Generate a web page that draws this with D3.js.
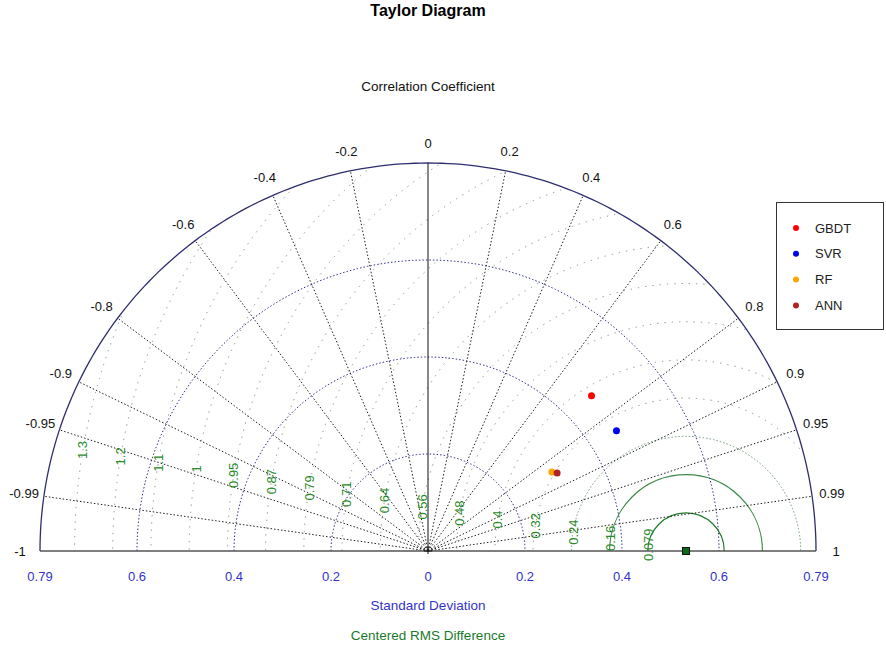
<!DOCTYPE html>
<html>
<head>
<meta charset="utf-8">
<script src="https://cdn.jsdelivr.net/npm/d3@7"></script>
<style>
  body { margin: 0; background: #fff; }
  text { font-family: "Liberation Sans", Arial, sans-serif; }
</style>
</head>
<body>
<svg width="886" height="646"></svg>
<script>
// Data
const models = ["GBDT", "SVR", "RF", "ANN"];
const modelColors = ["#ff0000", "#0000ee", "#ffa500", "#b22222"];
const stdDevs = [0.465, 0.461, 0.303, 0.311];
const correlations = [0.725, 0.843, 0.843, 0.856];

const refStd = 0.532;                       // observed standard deviation
const sdMax = 0.8;
const sdTicks = [0.2, 0.4, 0.6];
const sdEdgeLabel = "0.79";
const corrLines = [0.2, 0.4, 0.6, 0.8, 0.9, 0.95, 0.99];
const corrLabels = [-1, -0.99, -0.95, -0.9, -0.8, -0.6, -0.4, -0.2, 0, 0.2, 0.4, 0.6, 0.8, 0.9, 0.95, 0.99, 1];
const rmsStep = 0.0788;
const rmsLabels = ["0.079", "0.16", "0.24", "0.32", "0.4", "0.48", "0.56", "0.64", "0.71", "0.79",
                   "0.87", "0.95", "1", "1.1", "1.2", "1.3"];

const svg = d3.select("svg");
const cx = 428, cy = 551;                   // origin of the diagram
const R = 388;

const r = d3.scaleLinear().domain([0, sdMax]).range([0, R]);
// correlation -> angle (radians from +x axis)
const ang = c => Math.acos(c);

const g = svg.append("g").attr("transform", `translate(${cx},${cy})`);

// clip to the upper semicircle
svg.append("defs").append("clipPath").attr("id", "semi")
  .append("path")
  .attr("d", () => {
    const p = d3.path();
    p.moveTo(R, 0);
    p.arc(0, 0, R, 0, -Math.PI, true);
    p.closePath();
    return p.toString();
  });

// centered RMS circles
const rmsG = g.append("g").attr("clip-path", "url(#semi)");
rmsLabels.forEach((lab, i) => {
  const rr = r((i + 1) * rmsStep);
  rmsG.append("circle")
    .attr("cx", r(refStd)).attr("cy", 0).attr("r", rr)
    .attr("fill", "none")
    .attr("stroke", i === 0 ? "#1f7a2a" : i === 1 ? "#3f8a4a" : i === 2 ? "#6f9a78" : "#7f9487")
    .attr("stroke-width", i < 2 ? 1.2 : 1)
    .attr("stroke-dasharray", i < 2 ? null : (i === 2 ? "1.5,2" : "1.3,6"));
});

// standard deviation arcs
const arcLine = d3.lineRadial().curve(d3.curveLinear);
const half = d3.range(-Math.PI / 2, Math.PI / 2 + 0.001, Math.PI / 180);
sdTicks.forEach(v => {
  g.append("path")
    .attr("d", arcLine(half.map(a => [a, r(v)])))
    .attr("fill", "none").attr("stroke", "#33338f")
    .attr("stroke-width", 1).attr("stroke-dasharray", "1.5,2");
});

// correlation rays
corrLines.concat(corrLines.map(c => -c)).forEach(c => {
  const t = ang(c);
  g.append("line")
    .attr("x1", 0).attr("y1", 0)
    .attr("x2", R * Math.cos(t)).attr("y2", -R * Math.sin(t))
    .attr("stroke", "#222").attr("stroke-width", 1)
    .attr("stroke-dasharray", "1.5,2");
});
// zero correlation
g.append("line").attr("x1", 0).attr("y1", 0).attr("x2", 0).attr("y2", -R)
  .attr("stroke", "#111").attr("stroke-width", 1);

// outer arc + baseline
g.append("path")
  .attr("d", arcLine(half.map(a => [a, R])))
  .attr("fill", "none").attr("stroke", "#2e2e6e").attr("stroke-width", 1.3);
g.append("line").attr("x1", -R).attr("x2", R).attr("y1", 0).attr("y2", 0)
  .attr("stroke", "#555").attr("stroke-width", 1.5);
g.append("path").attr("d", "M-4,0H4M0,-4V3").attr("stroke", "#111");

// RMS labels
rmsLabels.forEach((lab, i) => {
  const rr = r((i + 1) * rmsStep);
  const a = 170.5 * Math.PI / 180;
  const x = r(refStd) + rr * Math.cos(a), y = -rr * Math.sin(a);
  g.append("text")
    .attr("transform", `translate(${x},${y}) rotate(-90)`)
    .attr("text-anchor", "middle").attr("dy", "0.35em")
    .attr("font-size", 13).attr("fill", "#2a8a2a")
    .text(lab);
});

// correlation labels
corrLabels.forEach(c => {
  const t = ang(c), rl = R + 20;
  g.append("text")
    .attr("x", rl * Math.cos(t)).attr("y", -rl * Math.sin(t))
    .attr("text-anchor", "middle").attr("dy", "0.35em")
    .attr("font-size", 13).attr("fill", "#111")
    .text(c);
});

// SD axis labels
const sdLab = [-sdMax, ...sdTicks.map(v => -v).reverse(), 0, ...sdTicks, sdMax];
sdLab.forEach(v => {
  g.append("text")
    .attr("x", v < 0 ? -r(-v) : r(v)).attr("y", 25)
    .attr("text-anchor", "middle").attr("dy", "0.35em")
    .attr("font-size", 13).attr("fill", "#3333cc")
    .text(Math.abs(v) === sdMax ? sdEdgeLabel : Math.abs(v));
});

// reference point
g.append("rect")
  .attr("x", r(refStd) - 3.5).attr("y", -3.5).attr("width", 7).attr("height", 7)
  .attr("fill", "#0a6a1a").attr("stroke", "#111").attr("stroke-width", 1);

// model points
models.forEach((m, i) => {
  const t = ang(correlations[i]), s = r(stdDevs[i]);
  g.append("circle")
    .attr("cx", s * Math.cos(t)).attr("cy", -s * Math.sin(t)).attr("r", 3.5)
    .attr("fill", modelColors[i]);
});

// titles
svg.append("text").attr("x", 428).attr("y", 16).attr("text-anchor", "middle")
  .attr("font-size", 16).attr("font-weight", "bold").text("Taylor Diagram");
svg.append("text").attr("x", 428).attr("y", 91).attr("text-anchor", "middle")
  .attr("font-size", 13.5).attr("fill", "#111").text("Correlation Coefficient");
svg.append("text").attr("x", 428).attr("y", 610).attr("text-anchor", "middle")
  .attr("font-size", 13.5).attr("fill", "#3333cc").text("Standard Deviation");
svg.append("text").attr("x", 428).attr("y", 640).attr("text-anchor", "middle")
  .attr("font-size", 13.5).attr("fill", "#1a7a2a").text("Centered RMS Difference");

// legend
const leg = svg.append("g");
leg.append("rect").attr("x", 776.5).attr("y", 202.5).attr("width", 107).attr("height", 127)
  .attr("fill", "#fff").attr("stroke", "#333");
models.forEach((m, i) => {
  const y = 228 + i * 25.8;
  leg.append("circle").attr("cx", 796).attr("cy", y).attr("r", 3).attr("fill", modelColors[i]);
  leg.append("text").attr("x", 815).attr("y", y).attr("dy", "0.35em")
    .attr("font-size", 13).attr("fill", "#222").text(m);
});
</script>
</body>
</html>
